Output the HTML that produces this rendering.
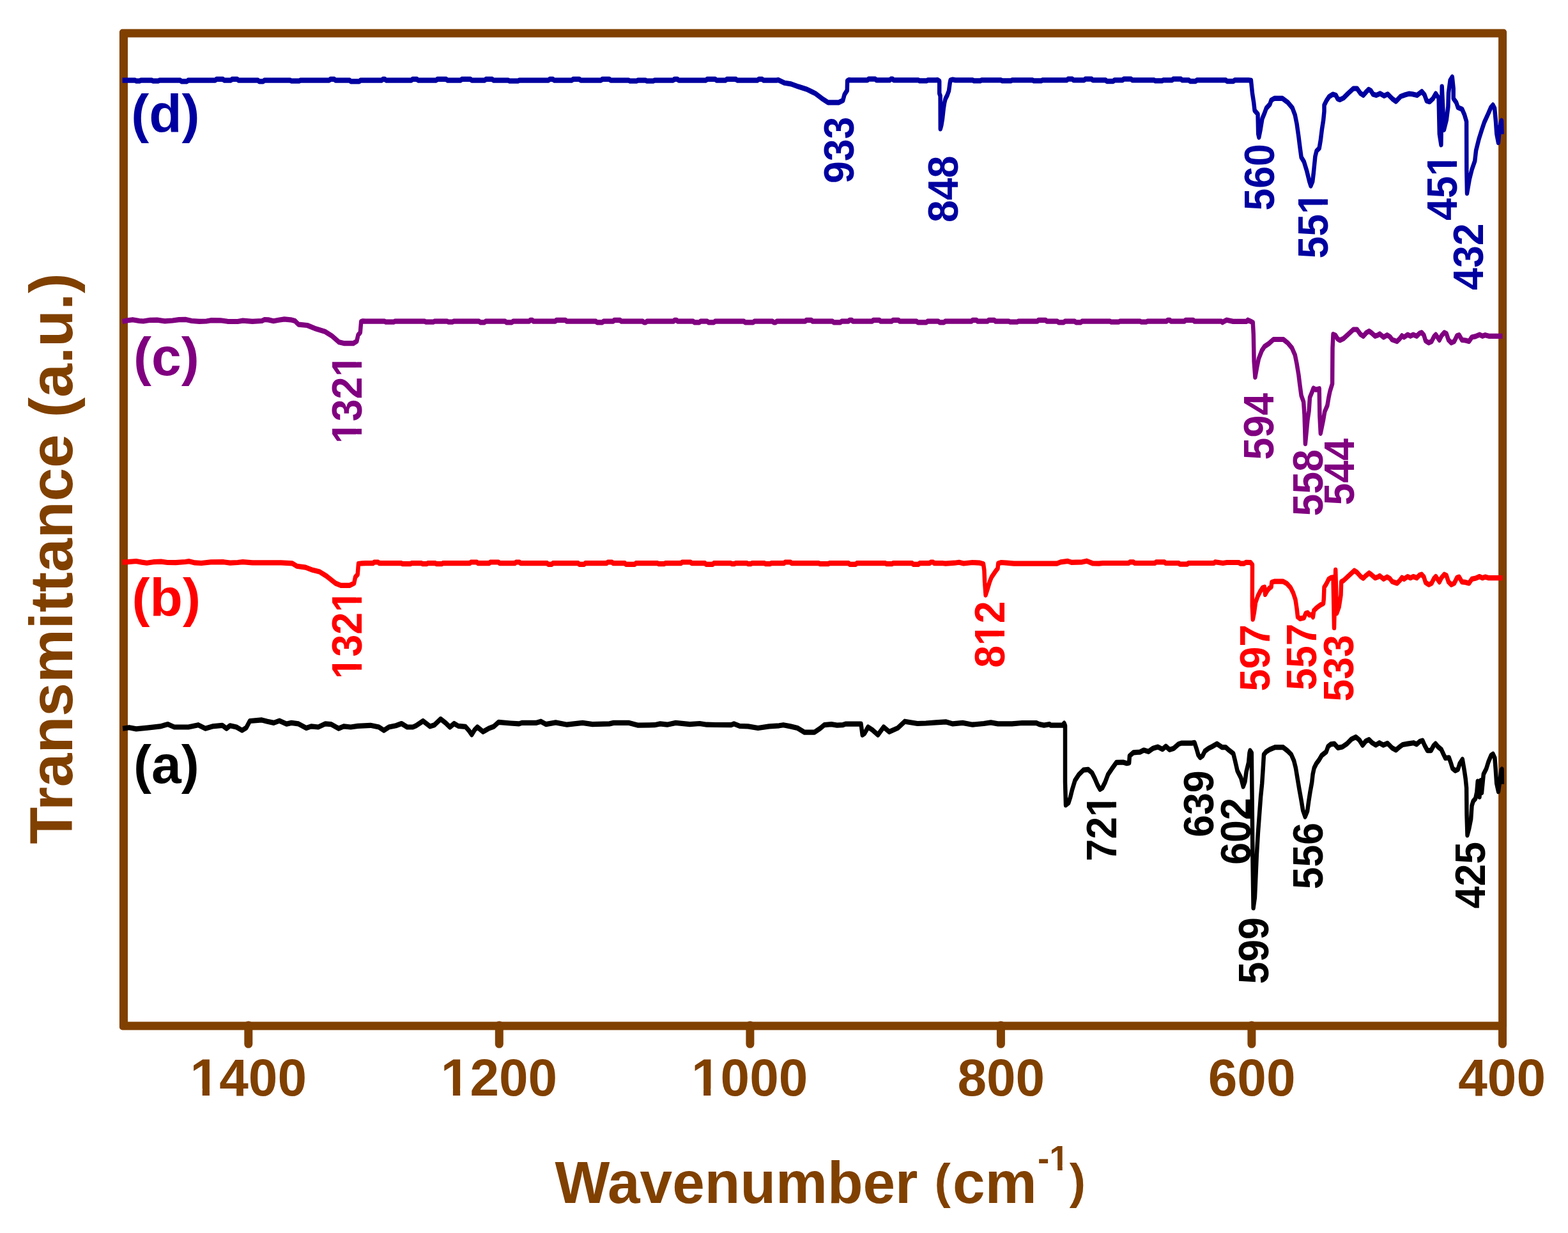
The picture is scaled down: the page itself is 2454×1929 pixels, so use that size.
<!DOCTYPE html>
<html lang="en"><head><meta charset="utf-8"><title>FTIR spectra</title>
<style>html,body{margin:0;padding:0;background:#fff;}body{width:2454px;height:1929px;overflow:hidden;}svg{display:block;}text{font-family:"Liberation Sans", Arial, Helvetica, sans-serif;font-weight:bold;}</style></head><body>
<svg width="2454" height="1929" viewBox="0 0 2454 1929">
<rect x="0" y="0" width="2454" height="1929" fill="#ffffff"/>
<path d="M191.4,45.6 H2353.6 A4.5,4.5 0 0 1 2358.1,50.1 V1606.9 A4.5,4.5 0 0 1 2353.6,1611.4 H191.4 A4.5,4.5 0 0 1 186.9,1606.9 V50.1 A4.5,4.5 0 0 1 191.4,45.6 Z M200.0,58.6 V1598.4 H2345.1 V58.6 Z" fill="#804000" fill-rule="evenodd"/>
<g fill="none" stroke="#804000" stroke-width="13" stroke-linecap="round">
<line x1="388.8" y1="1603.9" x2="388.8" y2="1633.3"/>
<line x1="781.3" y1="1603.9" x2="781.3" y2="1633.3"/>
<line x1="1173.9" y1="1603.9" x2="1173.9" y2="1633.3"/>
<line x1="1566.4" y1="1603.9" x2="1566.4" y2="1633.3"/>
<line x1="1958.9" y1="1603.9" x2="1958.9" y2="1633.3"/>
<line x1="2351.5" y1="1603.9" x2="2351.5" y2="1633.3"/>
</g>
<g fill="#804000" font-size="82">
<text x="297.6" y="1714">1400</text>
<text x="689.8" y="1714">1200</text>
<text x="1082.0" y="1714">1000</text>
<text x="1498.4" y="1714">800</text>
<text x="1890.7" y="1714">600</text>
<text x="2282.2" y="1714">400</text>
</g>
<text transform="translate(0,1882.4) scale(1,1.011)" font-size="91" fill="#804000"><tspan x="868.5" y="0">Wavenumber</tspan> <tspan x="1462.5" y="-8.8" font-size="76">(</tspan><tspan x="1491.1" y="0">cm</tspan><tspan x="1624" y="-51.2" font-size="55">-1</tspan><tspan x="1673.7" y="-8.8" font-size="76">)</tspan></text>
<text transform="translate(112.9,1320.5) rotate(-90) scale(0.9955,1)" font-size="95" fill="#804000">Transmittance (a.u.)</text>
<text x="205.2" y="207.2" font-size="84" fill="#0000a0">(d)</text>
<text x="209.1" y="586.9" font-size="84" fill="#800080">(c)</text>
<text x="206.6" y="963.6" font-size="84" fill="#ff0000">(b)</text>
<text x="209.0" y="1225.4" font-size="84" fill="#000000">(a)</text>
<text transform="translate(1336.0,287.0) rotate(-90) scale(1,1.05)" font-size="62.6" fill="#0000a0">933</text>
<text transform="translate(1499.2,348.1) rotate(-90) scale(1,1.05)" font-size="62.6" fill="#0000a0">848</text>
<text transform="translate(1993.7,329.5) rotate(-90) scale(1,1.05)" font-size="62.6" fill="#0000a0">560</text>
<text transform="translate(2078.4,404.6) rotate(-90) scale(1,1.05)" font-size="62.6" fill="#0000a0">551</text>
<text transform="translate(2279.8,345.1) rotate(-90) scale(1,1.05)" font-size="62.6" fill="#0000a0">451</text>
<text transform="translate(2321.2,453.9) rotate(-90) scale(1,1.05)" font-size="62.6" fill="#0000a0">432</text>
<text transform="translate(565.9,694.0) rotate(-90) scale(1,1.05)" font-size="62.6" fill="#800080">1321</text>
<text transform="translate(1993.2,719.4) rotate(-90) scale(1,1.05)" font-size="62.6" fill="#800080">594</text>
<text transform="translate(2069.8,807.5) rotate(-90) scale(1,1.05)" font-size="62.6" fill="#800080">558</text>
<text transform="translate(2118.9,790.4) rotate(-90) scale(1,1.05)" font-size="62.6" fill="#800080">544</text>
<text transform="translate(565.9,1062.3) rotate(-90) scale(1,1.05)" font-size="62.6" fill="#ff0000">1321</text>
<text transform="translate(1572.1,1044.8) rotate(-90) scale(1,1.05)" font-size="62.6" fill="#ff0000">812</text>
<text transform="translate(1987.4,1081.4) rotate(-90) scale(1,1.05)" font-size="62.6" fill="#ff0000">597</text>
<text transform="translate(2060.1,1079.9) rotate(-90) scale(1,1.05)" font-size="62.6" fill="#ff0000">557</text>
<text transform="translate(2117.7,1097.5) rotate(-90) scale(1,1.05)" font-size="62.6" fill="#ff0000">533</text>
<text transform="translate(1747.3,1347.5) rotate(-90) scale(1,1.05)" font-size="62.6" fill="#000000">721</text>
<text transform="translate(1899.0,1309.8) rotate(-90) scale(1,1.05)" font-size="62.6" fill="#000000">639</text>
<text transform="translate(1957.0,1352.7) rotate(-90) scale(1,1.05)" font-size="62.6" fill="#000000">602</text>
<text transform="translate(1985.4,1539.6) rotate(-90) scale(1,1.05)" font-size="62.6" fill="#000000">599</text>
<text transform="translate(2070.1,1391.3) rotate(-90) scale(1,1.05)" font-size="62.6" fill="#000000">556</text>
<text transform="translate(2324.4,1421.4) rotate(-90) scale(1,1.05)" font-size="62.6" fill="#000000">425</text>
<g fill="#ffffff"><g transform="translate(0,1714)"><rect x="301.09" y="-10.83" width="15.61" height="12.47"/><rect x="327.96" y="-10.83" width="14.57" height="12.47"/></g><g transform="translate(0,1714)"><rect x="693.29" y="-10.83" width="15.61" height="12.47"/><rect x="720.16" y="-10.83" width="14.57" height="12.47"/></g><g transform="translate(0,1714)"><rect x="1085.49" y="-10.83" width="15.61" height="12.47"/><rect x="1112.36" y="-10.83" width="14.57" height="12.47"/></g><g transform="translate(0,1882.4) scale(1,1.011) translate(1642.32,-51.2)"><rect x="2.36" y="-7.26" width="10.47" height="8.36"/><rect x="20.38" y="-7.26" width="9.77" height="8.36"/></g><g transform="translate(2078.4,404.6) rotate(-90) scale(1,1.05)"><rect x="72.32" y="-8.27" width="11.92" height="9.52"/><rect x="92.83" y="-8.27" width="11.12" height="9.52"/></g><g transform="translate(2279.8,345.1) rotate(-90) scale(1,1.05)"><rect x="72.32" y="-8.27" width="11.92" height="9.52"/><rect x="92.83" y="-8.27" width="11.12" height="9.52"/></g><g transform="translate(565.9,694.0) rotate(-90) scale(1,1.05)"><rect x="2.69" y="-8.27" width="11.92" height="9.52"/><rect x="23.20" y="-8.27" width="11.12" height="9.52"/><rect x="107.14" y="-8.27" width="11.92" height="9.52"/><rect x="127.65" y="-8.27" width="11.12" height="9.52"/></g><g transform="translate(565.9,1062.3) rotate(-90) scale(1,1.05)"><rect x="2.69" y="-8.27" width="11.92" height="9.52"/><rect x="23.20" y="-8.27" width="11.12" height="9.52"/><rect x="107.14" y="-8.27" width="11.92" height="9.52"/><rect x="127.65" y="-8.27" width="11.12" height="9.52"/></g><g transform="translate(1572.1,1044.8) rotate(-90) scale(1,1.05)"><rect x="37.51" y="-8.27" width="11.92" height="9.52"/><rect x="58.02" y="-8.27" width="11.12" height="9.52"/></g><g transform="translate(1747.3,1347.5) rotate(-90) scale(1,1.05)"><rect x="72.32" y="-8.27" width="11.92" height="9.52"/><rect x="92.83" y="-8.27" width="11.12" height="9.52"/></g></g>
<g transform="scale(1,1.26)" fill="none" stroke-width="6.5" stroke-linejoin="round" stroke-linecap="butt">
<polyline stroke="#000000" points="192.1,904.52 202.1,903.33 213.1,905.08 230.8,903.65 250.7,901.90 262.8,899.29 272.8,902.78 294.9,902.78 310.3,900.16 321.4,904.52 332.4,901.90 347.9,900.63 354.5,904.52 360.0,901.03 370.0,902.78 378.8,906.83 385.4,903.65 391.0,895.24 409.7,893.97 418.6,895.79 428.5,897.54 437.3,894.92 448.4,898.89 456.1,897.54 467.2,898.73 479.3,903.97 487.0,901.90 498.1,902.78 509.1,898.73 518.0,899.29 530.1,904.52 537.9,901.90 548.9,902.78 559.9,901.51 579.8,900.63 593.1,902.78 600.8,906.83 608.5,902.78 619.6,901.03 628.4,898.41 637.3,902.78 646.1,902.78 651.0,901.03 662.1,895.24 673.1,901.90 679.8,900.16 689.7,892.78 697.4,897.54 704.1,902.78 710.7,898.41 717.3,901.51 728.4,902.22 733.9,907.14 738.3,912.06 742.7,906.27 747.1,902.78 756.0,908.57 764.8,904.52 772.5,902.22 780.3,896.67 799.0,898.02 812.3,898.73 816.7,897.54 838.8,897.54 846.5,895.79 854.3,899.29 869.7,897.14 887.4,899.76 911.7,897.54 927.2,899.29 953.7,898.73 960.3,897.54 984.6,897.54 997.9,900.48 1024.4,900.16 1033.2,898.73 1044.2,899.76 1057.5,897.54 1079.6,899.29 1095.0,898.41 1106.1,899.76 1120.0,900.00 1144.3,900.16 1148.7,898.73 1157.6,901.51 1170.8,901.90 1186.3,903.97 1203.9,901.90 1219.4,901.03 1226.0,900.16 1237.1,901.90 1248.1,903.97 1259.2,909.29 1274.6,909.29 1283.5,904.52 1290.1,900.16 1301.1,899.29 1310.0,900.48 1318.8,900.16 1323.2,898.89 1347.5,898.89 1349.7,912.38 1353.0,910.63 1358.6,902.78 1365.2,906.27 1374.0,912.38 1382.9,902.78 1391.7,908.57 1405.0,903.97 1416.0,895.79 1435.9,898.41 1449.1,898.02 1464.6,897.14 1480.1,896.27 1491.1,898.73 1506.6,897.54 1522.0,899.76 1539.7,898.41 1550.7,897.14 1561.8,898.73 1583.9,898.73 1600.0,897.62 1622.1,897.78 1626.5,899.29 1633.9,900.48 1642.7,899.29 1644.2,900.48 1663.3,900.48 1665.5,898.17 1667.0,901.03 1667.0,971.19 1668.0,999.52 1672.2,996.90 1675.1,989.92 1678.0,980.56 1682.5,968.89 1688.4,961.83 1695.7,956.03 1703.1,955.40 1709.0,959.52 1713.4,966.51 1717.8,974.68 1721.5,979.92 1725.2,978.17 1729.6,971.19 1734.0,961.83 1739.9,954.84 1747.3,946.67 1757.6,946.43 1763.5,947.78 1767.1,947.22 1767.9,938.49 1773.8,934.37 1784.1,933.81 1790.0,931.43 1797.3,933.17 1804.7,929.13 1812.1,927.38 1819.4,930.32 1824.6,926.75 1830.5,930.87 1837.1,929.13 1844.5,923.89 1848.9,922.70 1865.1,922.70 1869.5,922.14 1872.4,929.13 1875.4,937.30 1878.3,940.56 1882.0,938.49 1885.7,932.62 1891.6,929.13 1897.5,926.75 1904.5,923.49 1912.6,927.94 1918.3,927.94 1923.9,931.83 1930.2,935.71 1933.0,944.68 1936.5,956.90 1942.2,965.87 1945.7,976.51 1948.5,970.32 1950.6,958.02 1954.1,946.90 1955.5,934.92 1956.4,932.06 1958.8,934.92 1959.7,1000.40 1960.4,1063.49 1961.6,1127.14 1963.9,1114.29 1965.0,1095.24 1966.7,1063.49 1968.9,1033.89 1971.0,1011.59 1973.1,989.29 1975.2,972.54 1976.6,955.79 1978.0,936.83 1981.5,933.49 1987.1,930.71 1995.5,927.94 2008.2,927.94 2015.2,932.38 2020.8,936.83 2025.1,944.68 2027.9,953.57 2030.7,966.98 2033.5,980.32 2036.3,992.62 2039.1,1005.95 2042.6,1013.89 2046.1,1007.06 2048.2,994.84 2050.4,983.65 2053.2,971.43 2054.6,961.35 2056.7,953.57 2060.2,948.02 2064.4,943.57 2068.6,937.94 2075.6,933.49 2078.5,926.83 2082.7,924.05 2088.3,923.49 2093.9,928.49 2100.9,927.38 2108.0,923.49 2115.0,917.86 2122.0,915.08 2127.6,918.97 2132.5,925.16 2137.7,920.08 2142.6,918.41 2147.6,922.38 2153.2,925.16 2158.8,922.38 2165.1,925.16 2171.5,922.94 2178.5,928.49 2184.8,931.27 2190.4,927.38 2195.3,924.60 2203.1,923.49 2212.2,922.38 2217.1,924.05 2222.0,920.63 2226.3,919.52 2229.8,925.71 2234.0,931.83 2239.6,931.83 2243.8,925.71 2246.6,923.49 2250.8,927.38 2255.8,930.71 2259.3,936.83 2262.1,941.27 2267.7,940.71 2270.5,946.90 2273.3,954.13 2277.5,956.90 2281.8,955.24 2284.6,948.02 2288.8,942.94 2291.6,955.79 2293.7,966.98 2295.1,978.10 2295.5,1011.59 2296.5,1036.75 2299.3,1028.25 2302.1,1017.14 2303.5,1000.40 2305.6,994.84 2309.2,991.51 2311.3,983.65 2312.7,970.32 2315.5,989.29 2317.6,969.21 2319.0,984.13 2321.8,961.35 2326.0,954.68 2329.5,945.79 2333.7,937.94 2336.6,936.27 2339.4,941.27 2340.8,955.79 2342.2,972.54 2345.0,982.62 2347.8,966.98 2349.9,955.79 2350.6,955.16 2350.9,973.65"/>
<polyline stroke="#ff0000" points="191.6,698.10 200.0,697.78 213.0,696.83 222.0,698.10 229.7,698.97 240.0,697.78 252.0,697.30 262.0,698.41 275.0,698.57 290.0,697.62 296.0,696.98 305.0,698.73 315.0,699.21 330.0,697.94 350.0,697.78 360.0,698.89 372.0,698.41 380.0,697.78 395.0,698.73 440.0,698.73 457.5,699.44 464.4,702.94 478.2,704.44 489.2,707.78 500.3,710.00 511.3,715.48 525.1,724.21 533.4,726.83 547.2,726.83 554.1,724.21 556.1,716.51 559.7,713.25 561.0,700.08 566.6,699.44 572.0,699.37 583.9,699.37 585.7,698.02 591.8,698.02 593.6,699.37 628.3,699.37 630.1,700.16 642.2,700.16 644.0,699.37 659.8,699.37 661.6,700.16 667.6,700.16 669.4,699.37 681.5,699.37 683.3,700.16 691.2,700.16 693.0,699.37 735.2,699.37 737.0,698.02 746.3,698.02 748.1,699.37 765.6,699.37 767.4,698.02 780.2,698.02 782.0,699.37 805.9,699.37 807.7,698.02 813.0,698.02 814.8,699.37 856.4,699.37 858.2,700.71 863.4,700.71 865.2,699.37 905.0,699.37 906.8,700.71 914.1,700.71 915.9,699.37 949.4,699.37 951.2,698.02 957.8,698.02 959.6,699.37 978.0,699.37 979.8,700.71 993.3,700.71 995.1,699.37 1029.2,699.37 1031.0,700.16 1039.3,700.16 1041.1,699.37 1065.8,699.37 1067.6,698.02 1080.8,698.02 1082.6,699.37 1103.4,699.37 1105.2,700.71 1115.3,700.71 1117.1,699.37 1143.8,699.37 1145.6,700.16 1149.2,700.16 1151.0,699.37 1169.2,699.37 1171.0,700.16 1174.9,700.16 1176.7,699.37 1196.6,699.37 1198.4,700.16 1205.1,700.16 1206.9,699.37 1227.0,699.37 1228.8,698.02 1237.2,698.02 1239.0,699.37 1281.6,699.37 1283.4,700.16 1296.2,700.16 1298.0,699.37 1328.2,699.37 1330.0,700.71 1339.1,700.71 1340.9,699.37 1385.8,699.37 1387.6,700.16 1395.8,700.16 1397.6,699.37 1427.6,699.37 1429.4,700.71 1437.4,700.71 1439.2,699.37 1454.9,699.37 1456.7,698.02 1460.4,698.02 1462.2,699.37 1476.0,699.37 1480.0,699.76 1494.0,698.97 1501.0,698.25 1508.0,699.60 1522.0,698.41 1533.4,698.97 1539.0,700.16 1540.4,707.94 1541.1,722.46 1542.6,738.65 1546.0,730.24 1548.9,722.46 1551.7,716.83 1557.3,710.16 1561.5,705.71 1562.2,699.60 1567.1,698.41 1575.5,698.97 1586.8,699.76 1654.2,699.76 1659.9,697.86 1671.1,696.75 1676.7,698.25 1693.6,697.86 1700.6,696.59 1710.4,699.60 1720.0,699.76 1726.0,699.21 1766.6,699.21 1768.4,697.86 1773.9,697.86 1775.7,699.21 1807.6,699.21 1809.4,697.86 1822.4,697.86 1824.2,699.21 1844.8,699.21 1846.6,700.56 1858.1,700.56 1859.9,699.21 1899.9,699.21 1901.7,697.86 1914.0,699.21 1920.0,698.41 1939.0,698.41 1941.0,699.76 1946.7,699.76 1950.2,698.25 1957.2,698.41 1960.0,701.27 1959.8,752.54 1960.8,768.81 1962.9,760.32 1965.0,748.10 1968.5,740.24 1972.0,734.68 1976.2,729.68 1979.0,729.13 1980.1,738.02 1983.2,733.57 1986.0,730.79 1989.6,728.57 1990.3,723.02 1994.5,721.90 2007.8,721.90 2014.1,724.68 2019.8,729.68 2024.0,736.35 2027.5,744.76 2029.6,755.87 2031.0,765.95 2034.5,768.17 2040.8,767.06 2043.7,761.43 2046.5,760.87 2049.3,763.65 2052.8,763.10 2054.9,765.95 2056.3,758.10 2060.5,754.76 2066.1,751.43 2071.1,749.21 2071.8,743.65 2072.5,729.13 2076.0,724.68 2079.5,719.05 2083.0,717.38 2086.5,716.83 2088.0,779.37 2090.2,707.86 2092.1,761.43 2095.6,753.65 2098.5,739.13 2099.2,722.46 2102.7,720.79 2109.7,715.71 2119.5,708.49 2123.8,710.71 2129.4,715.71 2133.6,717.94 2137.8,714.60 2142.8,711.51 2146.6,713.73 2152.1,717.62 2156.6,716.35 2159.3,715.00 2165.4,718.97 2170.9,716.35 2175.3,718.49 2178.7,722.06 2186.4,724.21 2190.8,720.71 2194.1,717.22 2197.4,718.97 2203.0,715.87 2207.4,717.62 2211.8,715.87 2217.3,717.62 2221.7,714.13 2225.0,713.25 2228.4,716.35 2231.1,723.33 2236.1,725.95 2240.5,724.21 2244.4,718.10 2247.1,715.87 2252.7,722.46 2256.0,717.22 2260.4,713.25 2263.7,714.60 2267.0,722.46 2271.4,725.95 2275.9,724.21 2280.3,717.22 2283.6,716.35 2288.0,722.46 2293.5,722.94 2299.0,724.21 2303.5,718.97 2309.0,718.10 2315.6,715.87 2320.0,717.62 2324.4,716.35 2330.0,717.62 2351.5,717.62"/>
<polyline stroke="#800080" points="191.6,399.21 200.0,397.86 207.6,396.98 218.0,398.41 224.2,398.81 235.0,397.46 246.0,397.30 258.0,398.73 270.0,398.02 280.0,396.98 291.0,396.75 300.0,398.41 312.0,399.05 323.0,398.81 330.0,397.78 345.0,397.86 356.0,399.05 372.0,399.21 380.0,398.10 395.0,399.05 410.0,398.41 414.0,396.83 420.0,397.14 428.0,398.57 436.0,397.46 445.0,396.35 455.0,397.06 461.6,398.49 467.2,402.86 481.0,403.97 494.8,408.41 508.6,411.67 519.6,417.14 530.7,424.84 539.0,426.35 552.8,426.35 558.3,423.73 560.5,416.03 563.8,412.78 565.2,399.21 568.0,398.73 572.0,398.89 601.5,398.89 603.3,399.68 616.6,399.68 618.4,398.89 664.3,398.89 666.1,399.68 678.6,399.68 680.4,398.89 699.6,398.89 701.4,399.68 708.5,399.68 710.3,398.89 749.6,398.89 751.4,400.24 758.4,400.24 760.2,398.89 790.5,398.89 792.3,400.24 801.3,400.24 803.1,398.89 828.2,398.89 830.0,397.54 833.0,397.54 834.8,398.89 869.0,398.89 870.8,397.54 885.0,397.54 886.8,398.89 932.4,398.89 934.2,400.24 942.9,400.24 944.7,398.89 959.6,398.89 961.4,397.54 970.4,397.54 972.2,398.89 1005.8,398.89 1007.6,400.24 1010.8,400.24 1012.6,398.89 1054.1,398.89 1055.9,397.54 1058.8,397.54 1060.6,398.89 1084.7,398.89 1086.5,400.24 1094.7,400.24 1096.5,398.89 1106.8,398.89 1108.6,400.24 1117.5,400.24 1119.3,398.89 1164.2,398.89 1166.0,400.24 1179.0,400.24 1180.8,398.89 1208.9,398.89 1210.7,400.24 1214.0,400.24 1215.8,398.89 1260.2,398.89 1262.0,397.54 1269.8,397.54 1271.6,398.89 1302.8,398.89 1304.6,400.24 1315.5,400.24 1317.3,398.89 1327.8,398.89 1329.6,397.54 1333.0,397.54 1334.8,398.89 1365.0,398.89 1366.8,397.54 1376.3,397.54 1378.1,398.89 1395.7,398.89 1397.5,397.54 1406.2,397.54 1408.0,398.89 1434.4,398.89 1436.2,400.24 1450.0,400.24 1451.8,398.89 1468.5,398.89 1470.3,400.24 1477.6,400.24 1479.4,398.89 1520.4,398.89 1522.2,397.54 1528.2,397.54 1530.0,398.89 1545.6,398.89 1547.4,397.54 1556.1,397.54 1557.9,398.89 1578.6,398.89 1580.4,399.68 1592.3,399.68 1594.1,398.89 1623.5,398.89 1625.3,397.54 1636.5,397.54 1638.3,398.89 1654.7,398.89 1656.5,400.24 1665.0,400.24 1666.8,398.89 1681.9,398.89 1683.7,400.24 1691.7,400.24 1693.5,398.89 1736.8,398.89 1738.6,399.68 1751.2,399.68 1753.0,398.89 1784.0,398.89 1785.8,399.68 1794.3,399.68 1796.1,398.89 1825.7,398.89 1827.5,397.54 1830.8,397.54 1832.6,398.89 1853.7,398.89 1855.5,397.54 1867.5,397.54 1869.3,398.89 1911.4,398.89 1913.2,400.24 1916.0,398.89 1920.0,397.38 1929.8,399.13 1950.9,399.13 1953.0,397.38 1957.5,399.13 1960.8,400.40 1961.8,415.24 1962.6,448.73 1964.4,468.25 1967.1,456.51 1969.9,445.40 1974.8,435.32 1979.0,430.32 1986.0,426.43 1993.1,421.43 2008.5,421.43 2015.5,425.87 2021.9,431.98 2026.8,440.87 2029.6,452.06 2032.4,465.48 2034.5,478.81 2036.6,491.11 2040.1,498.89 2041.5,514.52 2042.9,550.71 2046.5,521.19 2048.6,510.08 2050.0,493.33 2053.5,486.67 2055.6,482.14 2059.1,483.89 2064.7,482.70 2065.4,516.75 2066.8,537.94 2071.1,521.19 2073.2,511.19 2077.4,503.33 2079.5,493.33 2081.6,485.56 2085.1,476.59 2085.5,431.98 2086.5,415.24 2090.0,416.35 2093.5,420.87 2097.0,422.54 2102.7,420.32 2109.7,415.24 2118.1,409.13 2123.8,409.13 2129.4,415.24 2133.6,417.46 2138.5,413.02 2142.8,411.19 2146.6,413.41 2152.1,417.30 2156.6,416.03 2159.3,414.68 2165.4,418.65 2170.9,416.03 2175.3,418.17 2178.7,421.75 2186.4,423.89 2190.8,420.40 2194.1,416.90 2197.4,418.65 2203.0,415.56 2207.4,417.30 2211.8,415.56 2217.3,417.30 2221.7,413.81 2225.0,412.94 2228.4,416.03 2231.1,423.02 2236.1,425.63 2240.5,423.89 2244.4,417.78 2247.1,415.56 2252.7,422.14 2256.0,416.90 2260.4,412.94 2263.7,414.29 2267.0,422.14 2271.4,425.63 2275.9,423.89 2280.3,416.90 2283.6,416.03 2288.0,422.14 2293.5,422.62 2299.0,423.89 2303.5,418.65 2309.0,417.78 2315.6,415.56 2320.0,417.30 2324.4,416.03 2330.0,417.30 2351.5,417.30"/>
<polyline stroke="#0000a0" points="191.6,99.68 211.1,99.68 212.9,100.48 218.8,100.48 220.6,99.68 237.3,99.68 239.1,100.48 248.0,100.48 249.8,99.68 282.0,99.68 283.8,101.03 292.7,101.03 294.5,99.68 337.1,99.68 338.9,98.33 348.8,98.33 350.6,99.68 361.5,99.68 363.3,98.33 371.2,98.33 373.0,99.68 403.6,99.68 405.4,101.03 412.1,101.03 413.9,99.68 453.9,99.68 455.7,100.48 468.6,100.48 470.4,99.68 515.4,99.68 517.2,98.33 523.0,98.33 524.8,99.68 547.1,99.68 548.9,101.03 562.5,101.03 564.3,99.68 597.6,99.68 599.4,98.33 602.2,98.33 604.0,99.68 644.0,99.68 645.8,98.33 652.4,98.33 654.2,99.68 682.8,99.68 684.6,98.33 698.2,98.33 700.0,99.68 721.1,99.68 722.9,98.33 736.2,98.33 738.0,99.68 758.8,99.68 760.6,98.33 770.2,98.33 772.0,99.68 795.2,99.68 797.0,100.48 811.1,100.48 812.9,99.68 858.6,99.68 860.4,98.33 865.2,98.33 867.0,99.68 895.2,99.68 897.0,98.33 906.8,98.33 908.6,99.68 940.8,99.68 942.6,98.33 953.7,98.33 955.5,99.68 983.6,99.68 985.4,100.48 996.7,100.48 998.5,99.68 1010.1,99.68 1011.9,100.48 1022.8,100.48 1024.6,99.68 1053.7,99.68 1055.5,98.33 1060.2,98.33 1062.0,99.68 1105.0,99.68 1106.8,98.33 1119.3,98.33 1121.1,99.68 1135.8,99.68 1137.6,98.33 1151.7,98.33 1153.5,99.68 1185.8,99.68 1187.6,98.33 1192.8,98.33 1194.6,99.68 1215.0,99.68 1218.1,99.29 1228.0,103.02 1238.0,104.29 1249.6,107.62 1262.8,110.87 1276.1,116.11 1286.0,122.06 1296.0,127.30 1312.5,127.30 1319.2,124.68 1321.6,117.46 1325.8,112.22 1326.1,100.32 1328.3,99.29 1332.0,99.52 1357.5,99.52 1359.3,98.17 1369.9,98.17 1371.7,99.52 1392.5,99.52 1394.3,98.17 1397.0,98.17 1398.8,99.52 1437.5,99.52 1439.3,100.32 1450.0,100.32 1451.8,99.52 1464.0,99.52 1467.5,99.37 1470.2,100.79 1470.2,115.87 1471.6,119.05 1471.8,159.84 1473.3,155.56 1475.0,147.38 1476.8,134.52 1478.2,127.30 1479.6,122.86 1482.4,118.41 1485.0,112.78 1486.6,103.33 1487.5,99.60 1491.0,98.81 1495.0,99.52 1522.5,99.52 1524.3,100.32 1534.1,100.32 1535.9,99.52 1566.8,99.52 1568.6,100.32 1582.0,100.32 1583.8,99.52 1616.2,99.52 1618.0,100.32 1629.5,100.32 1631.3,99.52 1669.6,99.52 1671.4,98.17 1678.3,98.17 1680.1,99.52 1696.7,99.52 1698.5,98.17 1708.5,98.17 1710.3,99.52 1730.3,99.52 1732.1,100.87 1742.4,100.87 1744.2,99.52 1756.8,99.52 1758.6,98.17 1770.3,98.17 1772.1,99.52 1806.4,99.52 1808.2,100.32 1818.6,100.32 1820.4,99.52 1834.3,99.52 1836.1,98.17 1848.3,98.17 1850.1,99.52 1860.6,99.52 1862.4,100.87 1871.4,100.87 1873.2,99.52 1918.4,99.52 1920.2,100.87 1930.6,100.87 1932.4,99.52 1954.0,99.52 1957.9,99.84 1960.0,116.03 1962.2,127.22 1963.6,137.22 1968.5,141.67 1969.2,166.19 1970.3,170.24 1972.7,160.63 1975.5,147.22 1979.0,140.56 1981.8,134.44 1987.4,129.44 1989.6,124.37 1994.5,122.14 2007.1,122.14 2015.5,127.22 2022.6,133.89 2026.8,142.78 2029.6,153.97 2032.4,169.60 2034.5,182.94 2036.6,195.24 2040.8,200.79 2045.1,211.90 2049.3,225.32 2051.4,230.63 2054.2,225.32 2055.6,216.43 2057.0,205.24 2058.4,194.13 2060.5,187.38 2064.7,184.05 2066.8,174.05 2068.9,160.63 2071.1,149.52 2072.5,138.33 2072.5,130.56 2076.0,124.92 2080.2,119.92 2085.8,117.14 2090.7,118.25 2093.5,122.70 2097.0,123.81 2102.7,121.59 2109.7,116.03 2118.1,109.92 2123.8,109.92 2129.4,116.03 2133.6,118.25 2138.5,113.81 2142.0,110.95 2145.5,112.70 2149.0,117.14 2154.0,118.25 2159.8,116.11 2166.3,119.05 2171.8,116.90 2179.2,122.70 2184.7,125.95 2192.1,119.76 2199.4,117.62 2204.9,116.43 2210.5,116.90 2217.8,118.33 2225.2,113.73 2229.4,117.70 2232.8,125.24 2237.4,126.35 2242.7,122.38 2247.0,116.27 2251.6,121.83 2252.8,166.19 2255.4,179.60 2256.7,107.62 2259.9,161.11 2263.8,148.89 2266.4,132.54 2267.0,115.16 2269.6,99.84 2272.8,95.71 2274.7,110.00 2274.7,122.30 2279.2,127.38 2281.8,133.49 2288.2,135.56 2292.1,142.70 2295.1,150.87 2295.3,212.22 2296.0,239.76 2299.8,222.46 2303.7,210.16 2308.2,199.92 2310.1,186.67 2314.6,172.38 2319.1,161.11 2323.0,151.90 2329.4,140.71 2333.3,133.49 2336.5,130.48 2339.1,134.52 2341.0,150.87 2342.3,166.19 2344.9,176.90 2346.8,161.11 2348.8,152.94 2350.0,149.84 2350.6,166.67"/>
</g>
</svg></body></html>
